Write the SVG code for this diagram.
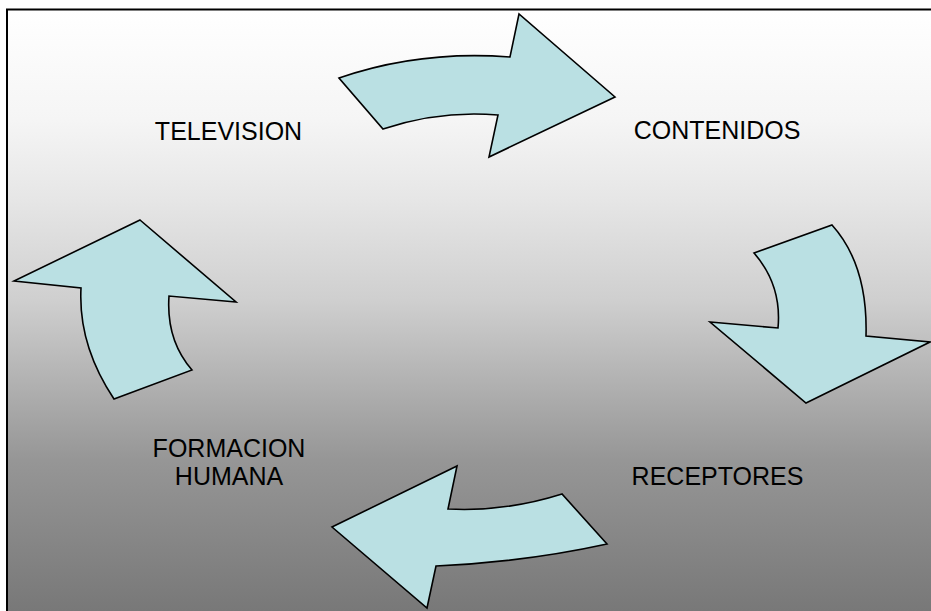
<svg xmlns="http://www.w3.org/2000/svg" width="931" height="611" viewBox="0 0 931 611">
  <defs>
    <linearGradient id="bg" gradientUnits="userSpaceOnUse" x1="0" y1="10" x2="0" y2="611">
      <stop offset="0" stop-color="#ffffff"/>
      <stop offset="0.183" stop-color="#f5f5f5"/>
      <stop offset="0.316" stop-color="#e6e6e6"/>
      <stop offset="0.483" stop-color="#cfcfcf"/>
      <stop offset="0.649" stop-color="#ababab"/>
      <stop offset="0.749" stop-color="#969696"/>
      <stop offset="1" stop-color="#787878"/>
    </linearGradient>
  </defs>
  <style>
    .arrow { fill: #bae0e3; stroke: #000000; stroke-width: 1.6; stroke-linejoin: miter; }
    .label { font-family: "Liberation Sans", Arial, sans-serif; font-size: 25px; fill: #000000; text-anchor: middle; }
  </style>
  <rect x="0" y="0" width="931" height="611" fill="#ffffff"/>
  <rect x="7" y="9.5" width="935" height="610" fill="url(#bg)" stroke="#000000" stroke-width="2"/>

  <g id="connectors">
    <path class="arrow" d="M339,78 Q420,50 510,57 L519,14 L615,97 L489,157 L498,115 Q440,110 383,129 Z"/>
    <path class="arrow" d="M754,253 L832,225 Q868,265 866,336 L930,342 L806,403 L710,322 L778,328 Q782,285 754,253 Z"/>
    <path class="arrow" d="M457,466 L448,509 Q505,512 562,494 L607,544 Q525,562 436,566 L427,608 L332,527 Z"/>
    <path class="arrow" d="M140,220 L236,302 L169,296 Q166,340 192,370 L114,399 Q78,345 81,288 L14,281 Z"/>
  </g>

  <g id="television">
    <text class="label" x="228.5" y="139.5">TELEVISION</text>
  </g>
  <g id="contenidos">
    <text class="label" x="717" y="138.5">CONTENIDOS</text>
  </g>
  <g id="receptores">
    <text class="label" x="717.5" y="485">RECEPTORES</text>
  </g>
  <g id="formacion-humana">
    <text class="label" x="229" y="457">FORMACION</text>
    <text class="label" x="229" y="485">HUMANA</text>
  </g>
</svg>
